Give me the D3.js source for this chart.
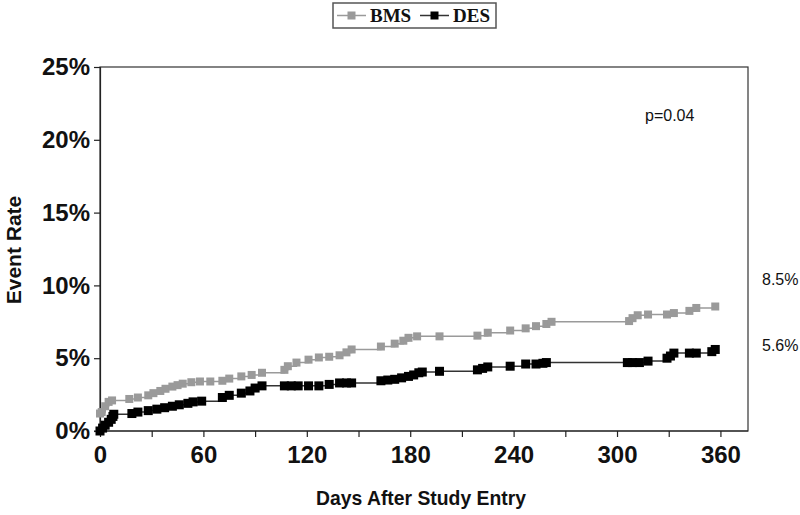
<!DOCTYPE html>
<html>
<head>
<meta charset="utf-8">
<script src="https://cdn.jsdelivr.net/npm/d3@7"></script>
<style>
  body { margin: 0; background: #fff; }
  svg { display: block; font-family: "Liberation Sans", Arial, sans-serif; }
</style>
</head>
<body>
<div id="chart"></div>
<script>
// Jours et taux cumulés (%)
const bmsDays  = [0, 1, 3, 5, 7, 17, 22, 28, 31, 35, 38, 42, 45, 48, 53, 58, 64, 71, 75, 82, 88, 94, 107, 109, 114, 121, 127, 133, 139, 143, 146, 163, 171, 176, 179, 184, 197, 219, 225, 238, 247, 253, 259, 262, 307, 309, 312, 318, 329, 333, 342, 346, 357];
const bmsRates = [1.2, 1.3, 1.7, 2.0, 2.1, 2.2, 2.3, 2.45, 2.6, 2.75, 2.9, 3.05, 3.15, 3.25, 3.35, 3.4, 3.4, 3.45, 3.6, 3.75, 3.85, 4.0, 4.2, 4.45, 4.7, 4.9, 5.05, 5.1, 5.2, 5.4, 5.6, 5.8, 6.0, 6.2, 6.4, 6.5, 6.5, 6.55, 6.75, 6.9, 7.05, 7.2, 7.35, 7.5, 7.55, 7.75, 7.95, 8.0, 8.0, 8.1, 8.25, 8.45, 8.55];

const desDays  = [0, 1.5, 3, 5, 6.5, 7.5, 8, 18.5, 22, 28, 33, 37.5, 42, 46, 51, 54, 59, 71, 75, 82, 87, 90, 94, 107, 111, 115, 121, 127, 133, 139, 143, 146, 163, 167, 171, 175, 179, 182, 185, 187, 197, 219, 222, 225, 238, 247, 253, 257, 259, 306, 309, 313, 318, 329, 331, 333, 342, 346, 355, 357];
const desRates = [0, 0.2, 0.4, 0.6, 0.8, 1.0, 1.15, 1.2, 1.3, 1.4, 1.5, 1.6, 1.7, 1.8, 1.9, 2.0, 2.05, 2.3, 2.45, 2.6, 2.75, 2.95, 3.1, 3.1, 3.1, 3.1, 3.1, 3.1, 3.2, 3.3, 3.3, 3.3, 3.45, 3.5, 3.55, 3.65, 3.75, 3.85, 4.0, 4.05, 4.1, 4.2, 4.3, 4.4, 4.45, 4.6, 4.6, 4.65, 4.7, 4.7, 4.7, 4.7, 4.8, 5.0, 5.15, 5.35, 5.35, 5.35, 5.45, 5.6];

const xTicks = [0, 30, 60, 90, 120, 150, 180, 210, 240, 270, 300, 330, 360];
const yTicks = [0, 5, 10, 15, 20, 25];
const endLabels = ["8.5%", "5.6%"];
const pValue = "p=0.04";

const series = [
  { name: "BMS", days: bmsDays, rates: bmsRates, color: "#9a9a9a", line: "#9a9a9a", size: 8, end: endLabels[0], endShift: -27 },
  { name: "DES", days: desDays, rates: desRates, color: "#000", line: "#333", size: 9, end: endLabels[1], endShift: -4 }
];

const width = 800, height = 515;
const plotLeft = 100, plotRight = 748, plotTop = 67, plotBottom = 431;

const svg = d3.select("#chart").append("svg")
  .attr("width", width)
  .attr("height", height);

const x = d3.scaleLinear().domain([0, 376]).range([plotLeft, plotRight]);
const y = d3.scaleLinear().domain([0, 25]).range([plotBottom, plotTop]);

// cadre de la zone de tracé
svg.append("rect")
  .attr("x", plotLeft).attr("y", plotTop)
  .attr("width", plotRight - plotLeft).attr("height", plotBottom - plotTop)
  .attr("fill", "none").attr("stroke", "#333").attr("stroke-width", 1.2);

// axe X
const xAxis = svg.append("g")
  .attr("transform", "translate(0," + plotBottom + ")")
  .call(d3.axisBottom(x).tickValues(xTicks).tickSize(6).tickPadding(9)
    .tickFormat(d => d % 60 === 0 ? d : ""));
xAxis.select(".domain").attr("d", "M" + (plotLeft - 6) + ",0H" + plotRight);

// axe Y
const yAxis = svg.append("g")
  .attr("transform", "translate(" + plotLeft + ",0)")
  .call(d3.axisLeft(y).tickValues(yTicks).tickSize(6).tickPadding(4)
    .tickFormat(d => d + "%"));

svg.selectAll(".tick text")
  .attr("font-family", "'Liberation Sans', Arial, sans-serif")
  .attr("font-weight", "bold")
  .attr("font-size", 24)
  .attr("fill", "#111");
svg.selectAll(".tick line, .domain").attr("stroke", "#222").attr("stroke-width", 1.2);

// courbes en escalier avec marqueurs
const line = d3.line()
  .x(d => x(d[0]))
  .y(d => y(d[1]))
  .curve(d3.curveStepAfter);

series.forEach(s => {
  const pts = s.days.map((d, i) => [d, s.rates[i]]);
  svg.append("path")
    .datum(pts)
    .attr("fill", "none")
    .attr("stroke", s.line)
    .attr("stroke-width", 1.5)
    .attr("d", line);
  svg.append("g").selectAll("rect")
    .data(pts)
    .join("rect")
    .attr("x", d => x(d[0]) - s.size / 2)
    .attr("y", d => y(d[1]) - s.size / 2)
    .attr("width", s.size).attr("height", s.size)
    .attr("fill", s.color);

  // étiquette de fin
  const last = pts[pts.length - 1];
  svg.append("text")
    .attr("x", 762)
    .attr("y", y(last[1]) + s.endShift)
    .attr("dy", "0.35em")
    .attr("font-size", 16)
    .attr("fill", "#111")
    .text(s.end);
});

// p-value
svg.append("text")
  .attr("x", 645).attr("y", 121)
  .attr("font-size", 16)
  .attr("fill", "#111")
  .text(pValue);

// titres des axes
svg.append("text")
  .attr("transform", "translate(21,250) rotate(-90)")
  .attr("text-anchor", "middle")
  .attr("font-weight", "bold")
  .attr("font-size", 21)
  .attr("fill", "#111")
  .text("Event Rate");

svg.append("text")
  .attr("x", 421).attr("y", 505)
  .attr("text-anchor", "middle")
  .attr("font-weight", "bold")
  .attr("font-size", 21)
  .attr("textLength", 210)
  .attr("lengthAdjust", "spacingAndGlyphs")
  .attr("fill", "#111")
  .text("Days After Study Entry");

// légende
const legend = svg.append("g");
legend.append("rect")
  .attr("x", 333).attr("y", 3)
  .attr("width", 163).attr("height", 25)
  .attr("fill", "#fff").attr("stroke", "#555").attr("stroke-width", 1.5);

const legX = [337, 420];
series.forEach((s, i) => {
  const g = legend.append("g").attr("transform", "translate(" + legX[i] + ",15.5)");
  g.append("line").attr("x1", 0).attr("x2", 29).attr("y1", 0).attr("y2", 0)
    .attr("stroke", s.line).attr("stroke-width", 1.5);
  g.append("rect").attr("x", 10.5).attr("y", -4).attr("width", 8).attr("height", 8)
    .attr("fill", s.color);
  g.append("text")
    .attr("x", 33).attr("y", 0).attr("dy", "0.35em")
    .attr("font-family", "'Liberation Serif', 'Times New Roman', serif")
    .attr("font-weight", "bold")
    .attr("font-size", 19)
    .attr("fill", "#111")
    .text(s.name);
});
</script>
</body>
</html>
